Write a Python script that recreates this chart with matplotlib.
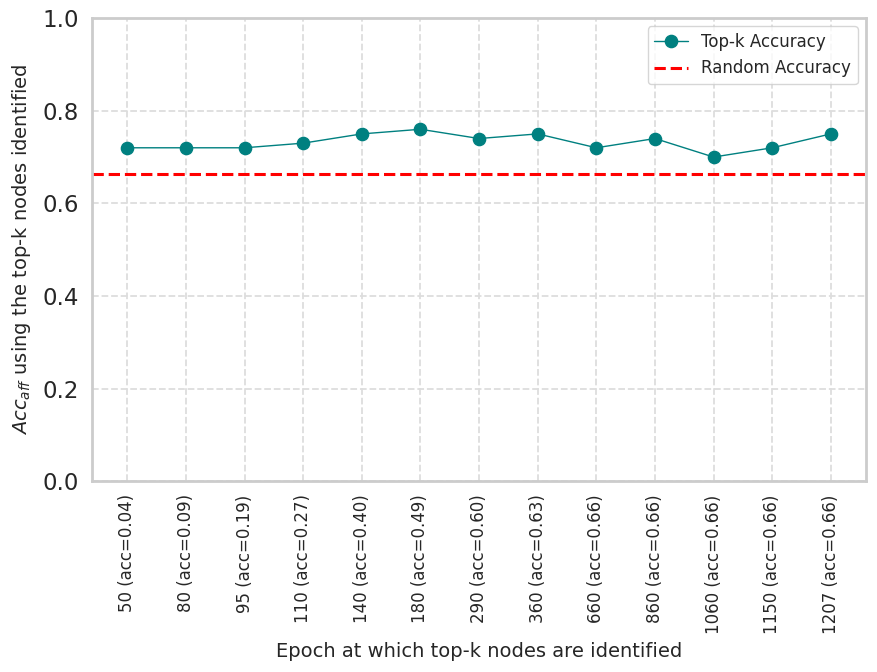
import matplotlib
matplotlib.use("Agg")
import matplotlib.pyplot as plt
import seaborn as sns

# values
epochs = [50, 80, 95, 110, 140, 180, 290, 360, 660, 860, 1060, 1150, 1207]
epoch_acc = [0.04, 0.09, 0.19, 0.27, 0.40, 0.49, 0.60, 0.63, 0.66, 0.66, 0.66, 0.66, 0.66]
topk_acc = [0.72, 0.72, 0.72, 0.73, 0.75, 0.76, 0.74, 0.75, 0.72, 0.74, 0.70, 0.72, 0.75]
random_acc = 0.664

tick_labels = ["%d (acc=%.2f)" % (e, a) for e, a in zip(epochs, epoch_acc)]

sns.set_theme(style="whitegrid")
plt.rcParams['font.family'] = ['DejaVu Sans']

fig = plt.figure(figsize=(8.77, 6.72), dpi=100)
ax = fig.add_axes([0.105, 0.284, 0.8825, 0.689])

xs = list(range(len(epochs)))
ax.plot(xs, topk_acc, color="teal", marker="o", markersize=8.8, linewidth=1.0,
        label="Top-k Accuracy")
ax.axhline(random_acc, color="red", linestyle="--", linewidth=2.2, label="Random Accuracy")

ax.set_ylim(0, 1.0)
ax.set_xticks(xs)
ax.set_xticklabels(tick_labels, rotation=90, fontsize=12)
ax.tick_params(axis="y", labelsize=16.5)
ax.set_yticks([0.0, 0.2, 0.4, 0.6, 0.8, 1.0])

ax.grid(True, linestyle="--", color="#dddddd", linewidth=1.3)
for s in ax.spines.values():
    s.set_color("#cccccc")
    s.set_linewidth(2)

ax.set_xlabel("Epoch at which top-k nodes are identified", fontsize=14, labelpad=6)
ax.set_ylabel("$Acc_{aff}$ using the top-k nodes identified", fontsize=14, labelpad=7)

ax.legend(loc="upper right", fontsize=12, frameon=True)

fig.savefig("out.png", dpi=100)
plt.close()
